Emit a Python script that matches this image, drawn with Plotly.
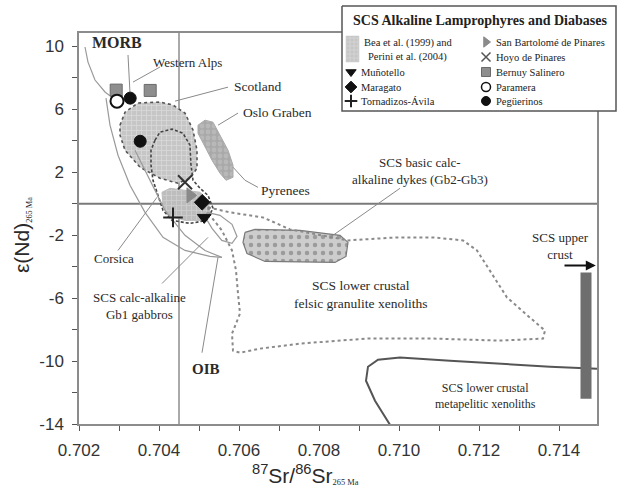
import plotly.graph_objects as go

# ---------------- data (87Sr/86Sr, eNd) ----------------
sr_bernuy = [0.70293, 0.70378]; nd_bernuy = [7.22, 7.20]
sr_paramera = [0.70295]; nd_paramera = [6.52]
sr_pegu = [0.70328, 0.70353]; nd_pegu = [6.71, 3.97]
sr_hoyo = [0.70465]; nd_hoyo = [1.36]
sr_sanbart = [0.70478]; nd_sanbart = [0.53]
sr_maragato = [0.70508]; nd_maragato = [0.09]
sr_munotello = [0.70513]; nd_munotello = [-0.87]
sr_tornadizos = [0.70435]; nd_tornadizos = [-0.87]

# fields
scot_sr = [0.703025, 0.70315, 0.703475, 0.704025, 0.70435, 0.70465, 0.70485, 0.70495, 0.70495, 0.704775, 0.704475, 0.704025, 0.703525, 0.70315, 0.703025]
scot_nd = [4.99, 5.82, 6.40, 6.46, 6.27, 5.76, 4.68, 3.40, 2.25, 1.62, 1.30, 1.62, 2.32, 3.40, 4.36]
inner_sr = [0.7039, 0.704025, 0.704325, 0.7046, 0.704775, 0.7048, 0.70485, 0.705025, 0.705225, 0.70535, 0.7052, 0.704775, 0.704325, 0.7041, 0.703975, 0.70385, 0.7038, 0.7038]
inner_nd = [4.04, 4.55, 4.74, 4.48, 3.72, 2.45, 1.49, 0.98, 0.53, -0.29, -1.06, -1.25, -1.06, -0.42, 0.53, 1.49, 2.45, 3.40]
gb1_sr = [0.704075, 0.704275, 0.70465, 0.705025, 0.705225, 0.705275, 0.7051, 0.70465, 0.704225, 0.7041]
gb1_nd = [0.73, 0.98, 0.85, 0.73, 0.22, -0.55, -1.06, -1.06, -0.74, -0.10]
oslo_sr = [0.704975, 0.70515, 0.70535, 0.705525, 0.705725, 0.70585, 0.70585, 0.705675, 0.705525, 0.705325, 0.705125, 0.704975]
oslo_nd = [4.99, 5.31, 5.18, 4.36, 3.40, 2.45, 1.68, 1.49, 1.94, 2.76, 3.72, 4.48]
dyke_sr = [0.70615, 0.7064, 0.707525, 0.708525, 0.708725, 0.708675, 0.7084, 0.70665, 0.7062, 0.7061]
dyke_nd = [-1.82, -1.63, -1.69, -2.01, -2.46, -3.35, -3.73, -3.67, -3.16, -2.46]
felsic_sr = [0.705225, 0.705775, 0.7066, 0.707275, 0.708725, 0.70995, 0.71085, 0.7116, 0.71195, 0.712275, 0.7127, 0.713275, 0.71365, 0.7136, 0.712525, 0.71085, 0.7092, 0.707525, 0.706525, 0.706025, 0.70585, 0.705825, 0.706025, 0.705975, 0.705925, 0.705825, 0.70557, 0.705275, 0.705225]
felsic_nd = [-0.23, -0.55, -0.87, -1.63, -2.33, -2.14, -2.14, -2.33, -2.97, -4.24, -5.96, -7.24, -8.06, -8.57, -8.70, -8.57, -8.57, -8.89, -9.21, -9.47, -9.34, -8.26, -6.98, -5.71, -4.24, -2.97, -1.69, -0.74, -0.23]
cors_sr = [0.7052, 0.705525, 0.705825, 0.70595, 0.705825, 0.70557, 0.705325, 0.705175, 0.7052]
cors_nd = [-0.55, -0.74, -1.31, -2.08, -2.52, -2.33, -1.57, -0.93, -0.55]
morb_sr = [0.70215, 0.702225, 0.7024, 0.70265, 0.70285]
morb_nd = [9.96, 9.0, 7.86, 7.10, 6.71]
arrL_sr = [0.702675, 0.702775, 0.702975, 0.703275, 0.70365, 0.7041, 0.70465, 0.705275, 0.70557]
arrL_nd = [6.71, 4.99, 3.08, 1.17, -0.55, -2.14, -2.97, -3.35, -3.41]
arrR_sr = [0.7034, 0.703775, 0.70415, 0.70465, 0.70515, 0.70557]
arrR_nd = [3.40, 1.49, -0.42, -2.01, -2.97, -3.41]
meta_sr = [0.709775, 0.7094, 0.709175, 0.709225, 0.709475, 0.710025, 0.711275, 0.712525, 0.713775, 0.71495]
meta_nd = [-14.05, -12.52, -11.25, -10.36, -9.91, -9.78, -9.98, -10.17, -10.36, -10.49]
upper_sr = [0.714675, 0.714675]
upper_nd = [-4.37, -12.40]

bulk_earth_sr = 0.7045
chur_nd = 0.0

x_ticks = [0.702, 0.704, 0.706, 0.708, 0.710, 0.712, 0.714]
x_ticktext = ["0.702", "0.704", "0.706", "0.708", "0.710", "0.712", "0.714"]
x_minor = [0.703, 0.705, 0.707, 0.709, 0.711, 0.713]
y_ticks = [-14, -10, -6, -2, 2, 6, 10]
y_ticktext = ["-14", "-10", "-6", "-2", "2", "6", "10"]
y_minor = [-12, -8, -4, 0, 4, 8]

leaders = [
    ([0.703225, 0.703275], [9.45, 7.03]),      # MORB
    ([0.704025, 0.70335], [8.69, 7.73]),       # Western Alps
    ([0.705725, 0.7044], [7.41, 6.52]),        # Scotland
    ([0.705975, 0.705475], [5.76, 4.99]),      # Oslo
    ([0.70585, 0.70615, 0.706475], [2.32, 1.49, 1.04]),  # Pyrenees
    ([0.710025, 0.708275], [0.98, -2.14]),     # dykes
    ([0.702975, 0.70395], [-2.97, 0.41]),      # Corsica
    ([0.704075, 0.705225], [-5.07, -2.14]),    # Gb1
    ([0.705075, 0.705475], [-9.47, -3.41]),    # OIB
]

SERIF = "Liberation Serif"
SANS = "Liberation Sans"
GRAY = "#8c8c8c"

fig = go.Figure()

def poly(xs, ys, **kw):
    fig.add_trace(go.Scatter(x=xs + [xs[0]], y=ys + [ys[0]], mode="lines", fill="toself",
                             hoverinfo="skip", **kw))

def line(xs, ys, **kw):
    fig.add_trace(go.Scatter(x=xs, y=ys, mode="lines", hoverinfo="skip", **kw))

line([bulk_earth_sr, bulk_earth_sr], [-14, 10.85], line=dict(color=GRAY, width=1.5))
line([0.702, 0.71495], [chur_nd, chur_nd], line=dict(color="#7a7a7a", width=2))

poly(scot_sr, scot_nd, fillcolor="#c6c6c6", line=dict(color="#555", width=1.6, dash="dot"),
     fillpattern=dict(shape="+", bgcolor="#c6c6c6", fgcolor="#f2f2f2", size=5, solidity=0.25))
poly(oslo_sr, oslo_nd, fillcolor="#a9a9a9", line=dict(color="#a9a9a9", width=1),
     fillpattern=dict(shape=".", bgcolor="#a9a9a9", fgcolor="#c8c8c8", size=6, solidity=0.5))
poly(gb1_sr, gb1_nd, fillcolor="#bdbdbd", line=dict(color="#bdbdbd", width=1),
     fillpattern=dict(shape="+", bgcolor="#bdbdbd", fgcolor="#e6e6e6", size=5, solidity=0.25))
poly(dyke_sr, dyke_nd, fillcolor="#cdcdcd", line=dict(color="#7a7a7a", width=1.2),
     fillpattern=dict(shape=".", bgcolor="#cdcdcd", fgcolor="#6a6a6a", size=8, solidity=0.25))

line(inner_sr + [inner_sr[0]], inner_nd + [inner_nd[0]], line=dict(color="#444", width=1.6, dash="3px,2px"))
line(felsic_sr, felsic_nd, line=dict(color="#8a8a8a", width=2, dash="dot"))
line(cors_sr, cors_nd, line=dict(color="#9a9a9a", width=1.2))
line(morb_sr, morb_nd, line=dict(color="#9a9a9a", width=1.2))
line(arrL_sr, arrL_nd, line=dict(color="#9a9a9a", width=1.2))
line(arrR_sr, arrR_nd, line=dict(color="#9a9a9a", width=1.2))
line(meta_sr, meta_nd, line=dict(color="#555", width=2))
line(upper_sr, upper_nd, line=dict(color="#6e6e6e", width=11))
for lx, ly in leaders:
    line(lx, ly, line=dict(color="#8a8a8a", width=1))

def pts(xs, ys, symbol, size, color, lcolor, lw=1):
    fig.add_trace(go.Scatter(x=xs, y=ys, mode="markers", hoverinfo="skip",
                             marker=dict(symbol=symbol, size=size, color=color,
                                         line=dict(color=lcolor, width=lw))))

pts(sr_bernuy, nd_bernuy, "square", 12, "#8e8e8e", "#6a6a6a")
pts(sr_paramera, nd_paramera, "circle", 13, "white", "#111", 2)
pts(sr_pegu, nd_pegu, "circle", 12, "#111", "#111")
pts(sr_hoyo, nd_hoyo, "x-thin", 14, "#333", "#333", 2)
pts(sr_sanbart, nd_sanbart, "triangle-right", 13, "#8a8a8a", "#8a8a8a")
pts(sr_maragato, nd_maragato, "diamond", 12, "#111", "#111")
pts(sr_munotello, nd_munotello, "triangle-down", 12, "#111", "#111")
pts(sr_tornadizos, nd_tornadizos, "cross-thin", 14, "#222", "#222", 2)

# ---------------- legend (overlay subplot in layout pixel coords) ----------------
LX0, LX1, LY0, LY1 = 342, 616, 6, 111
fig.add_trace(go.Scatter(x=[LX0, LX1, LX1, LX0, LX0], y=[LY0, LY0, LY1, LY1, LY0], mode="lines",
                         fill="toself", fillcolor="white", line=dict(color="#555", width=1.5),
                         xaxis="x2", yaxis="y2", hoverinfo="skip"))
fig.add_trace(go.Scatter(x=[346, 359, 359, 346, 346], y=[36, 36, 62, 62, 36], mode="lines",
                         fill="toself", fillcolor="#c6c6c6", line=dict(color="#c6c6c6", width=0.5),
                         fillpattern=dict(shape="+", bgcolor="#c6c6c6", fgcolor="#f2f2f2", size=4, solidity=0.25),
                         xaxis="x2", yaxis="y2", hoverinfo="skip"))
leg_items_left = [("triangle-down", "#111", "#111", 1, 72, "Muñotello"),
                  ("diamond", "#111", "#111", 1, 87, "Maragato"),
                  ("cross-thin", "#222", "#222", 2, 101, "Tornadizos-Ávila")]
leg_items_right = [("triangle-right", "#8a8a8a", "#8a8a8a", 1, 42, "San Bartolomé de Pinares"),
                   ("x-thin", "#555", "#555", 1.5, 57, "Hoyo de Pinares"),
                   ("square", "#8e8e8e", "#6a6a6a", 1, 72, "Bernuy Salinero"),
                   ("circle", "white", "#111", 1.5, 87, "Paramera"),
                   ("circle", "#111", "#111", 1, 101, "Pegüerinos")]
LEGFONT = dict(family=SERIF, size=10.5, color="#222")
for sym, col, lcol, lw, yy, txt in leg_items_left:
    fig.add_trace(go.Scatter(x=[351], y=[yy], mode="markers", xaxis="x2", yaxis="y2", hoverinfo="skip",
                             marker=dict(symbol=sym, size=9, color=col, line=dict(color=lcol, width=lw))))
    fig.add_annotation(x=359, y=yy, xref="x2", yref="y2", text=txt, showarrow=False, xanchor="left",
                       yanchor="middle", font=LEGFONT)
for sym, col, lcol, lw, yy, txt in leg_items_right:
    fig.add_trace(go.Scatter(x=[486], y=[yy], mode="markers", xaxis="x2", yaxis="y2", hoverinfo="skip",
                             marker=dict(symbol=sym, size=9, color=col, line=dict(color=lcol, width=lw))))
    fig.add_annotation(x=494, y=yy, xref="x2", yref="y2", text=txt, showarrow=False, xanchor="left",
                       yanchor="middle", font=LEGFONT)
fig.add_annotation(x=362, y=43, xref="x2", yref="y2", text="Bea et al. (1999) and", showarrow=False,
                   xanchor="left", yanchor="middle", font=LEGFONT)
fig.add_annotation(x=366, y=57, xref="x2", yref="y2", text="Perini et al. (2004)", showarrow=False,
                   xanchor="left", yanchor="middle", font=LEGFONT)
fig.add_annotation(x=480, y=20, xref="x2", yref="y2", text="<b>SCS Alkaline Lamprophyres and Diabases</b>",
                   showarrow=False, xanchor="center", yanchor="middle", font=dict(family=SERIF, size=14, color="#222"))

# ---------------- field labels ----------------
def label(x, y, txt, size=13, bold=False):
    t = f"<b>{txt}</b>" if bold else txt
    fig.add_annotation(x=x, y=y, xref="x", yref="y", text=t, showarrow=False, xanchor="center",
                       yanchor="middle", font=dict(family=SERIF, size=size, color="#2a2a2a"))

label(0.70295, 10.22, "MORB", 16, True)
label(0.7047, 9.0, "Western Alps", 13)
label(0.70645, 7.48, "Scotland", 13.5)
label(0.70695, 5.82, "Oslo Graben", 13.5)
label(0.70715, 0.85, "Pyrenees", 13.5)
label(0.710525, 2.06, "SCS basic calc-<br>alkaline dykes (Gb2-Gb3)", 13)
label(0.709025, -5.77, "SCS lower crustal<br>felsic granulite xenoliths", 13.5)
label(0.702875, -3.48, "Corsica", 13)
label(0.7035, -6.53, "SCS calc-alkaline<br>Gb1 gabbros", 13)
label(0.705175, -10.49, "OIB", 15, True)
label(0.714025, -2.71, "SCS upper<br>crust", 13)
label(0.71215, -12.2, "SCS lower crustal<br>metapelitic xenoliths", 12)

fig.add_annotation(x=0.71492, y=-3.92, ax=0.7141, ay=-3.92, xref="x", yref="y", axref="x", ayref="y",
                   text="", showarrow=True, arrowhead=2, arrowsize=1, arrowwidth=2, arrowcolor="#111")

# axis titles
fig.add_annotation(x=22 / 627, y=1 - 235 / 497, xref="paper", yref="paper", textangle=-90, showarrow=False,
                   xanchor="center", yanchor="middle",
                   text="ε(Nd)<span style='font-family:Liberation Serif;font-size:12px'><sub>265 Ma</sub></span>",
                   font=dict(family=SANS, size=21, color="#2a2a2a"))
fig.add_annotation(x=305 / 627, y=1 - 474 / 497, xref="paper", yref="paper", showarrow=False,
                   xanchor="center", yanchor="middle",
                   text="<sup>87</sup>Sr/<sup>86</sup>Sr<span style='font-family:Liberation Serif;font-size:12px'><sub>265 Ma</sub></span>",
                   font=dict(family=SANS, size=21, color="#2a2a2a"))

axis_common = dict(showgrid=False, zeroline=False, showline=True, linecolor=GRAY, linewidth=1.5, mirror=True,
                   ticks="outside", ticklen=5, tickwidth=1.2, tickcolor="#555", automargin=False,
                   tickfont=dict(family=SANS, size=17, color="#333"), ticklabelstandoff=5)
fig.update_layout(
    width=627, height=497, margin=dict(l=0, r=0, t=0, b=0, autoexpand=False),
    paper_bgcolor="white", plot_bgcolor="rgba(0,0,0,0)", showlegend=False,
    xaxis=dict(domain=[79 / 627, 597 / 627], range=[0.702, 0.71495], tickmode="array",
               tickvals=x_ticks, ticktext=x_ticktext,
               minor=dict(tickmode="array", tickvals=x_minor, ticks="outside", ticklen=5, tickcolor="#555"),
               **axis_common),
    yaxis=dict(domain=[1 - 424 / 497, 1 - 33 / 497], range=[-14, 10.85], tickmode="array",
               tickvals=y_ticks, ticktext=y_ticktext,
               minor=dict(tickmode="array", tickvals=y_minor, ticks="outside", ticklen=5, tickcolor="#555"),
               **axis_common),
    xaxis2=dict(domain=[0, 1], range=[0, 627], visible=False, anchor="y2", fixedrange=True),
    yaxis2=dict(domain=[0, 1], range=[497, 0], visible=False, anchor="x2", fixedrange=True),
)

fig.write_html("out.html", config={"displayModeBar": False},
               post_script="document.body.style.margin='0px';document.body.style.overflow='hidden';")
